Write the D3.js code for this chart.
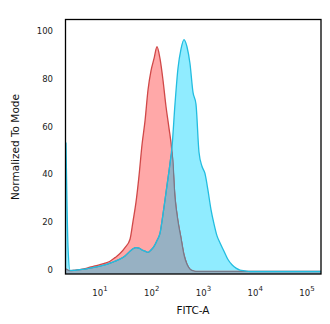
<!DOCTYPE html>
<html><head><meta charset="utf-8">
<script src="https://cdn.jsdelivr.net/npm/d3@7"></script>
<style>body{margin:0;background:#fff}svg{display:block}</style>
</head><body>
<svg id="c" width="330" height="324"></svg>
<script>
// FITC-A channel positions (shared grid)
const fitc = [2.2,2.41,2.63,3.29,4.11,5.13,6.41,8.0,10,12.5,15.6,19.5,24.3,30.4,38.0,43.4,49.6,56.7,64.8,74.1,84.7,96.8,110.5,126.3,144.3,164.9,188.4,215.3,246.0,281.1,321.2,367.1,419.5,479.3,547.7,625.9,715.2,817.3,933.9,1067,1219,1393,1592,1819,2079,2490,2973,3555,4246,5070,6336,7921,12370,30070,73230,186600];
// Isotype control (red), normalized to mode
const isotype = [1,0.5,0.3,0.5,0.8,1.2,1.8,2.3,2.9,3.5,4.3,5.8,7.5,10,13.5,21,29,40,53,63,76,84,89,94,89,80,69,60,50,31,21,14,7,3,1,0.3,0,0,0,0,0,0,0,0,0,0,0,0,0,0,0,0,0,0,0,0];
// Antibody stained (cyan), normalized to mode
const antibody = [54,10,0.5,0.5,0.8,1.0,1.4,1.8,2.2,2.8,3.5,4.3,5.2,6.5,8.5,9.5,10,9.8,9,8.5,8,9,10.5,13,16,24,33,42,52,70,85,93,97,94,87,75,70,50,44,41,34,26,20,15,12,8.5,5,2.8,1.4,0.6,0.3,0,0,0,0,0];
const yTicks = [0,20,40,60,80,100];
const xTicks = [1,2,3,4,5];
const xTitle = "FITC-A";
const yTitle = "Normalized To Mode";

const svg = d3.select("#c");
const L = 65.5, R = 321, T = 19.5, B = 274;
const x = d3.scaleLog().domain([2.2, 186600]).range([66, R]);
const y = d3.scaleLinear().domain([-1.05, 105.4]).range([B, T]);

const pts = (arr) => fitc.map((f, i) => ({f, v: arr[i]}));
const overlap = fitc.map((f, i) => ({f, v: Math.min(isotype[i], antibody[i])}));

const area = d3.area().x(d => x(d.f)).y0(B).y1(d => y(d.v)).curve(d3.curveMonotoneX);
const line = d3.line().x(d => x(d.f)).y(d => y(d.v)).curve(d3.curveMonotoneX);

const g = svg.append("g");
g.append("path").attr("d", area(pts(isotype))).attr("fill", "#ffa8a8");
g.append("path").attr("d", area(pts(antibody))).attr("fill", "#90ecff");
g.append("path").attr("d", line(pts(isotype))).attr("fill", "none").attr("stroke", "#d04848").attr("stroke-width", 1.3);
g.append("path").attr("d", area(overlap)).attr("fill", "#97b1c3");
g.append("path").attr("d", line(overlap)).attr("fill", "none").attr("stroke", "#737b8c").attr("stroke-width", 1.2);
g.append("path").attr("d", line(pts(antibody))).attr("fill", "none").attr("stroke", "#22bde0").attr("stroke-width", 1.3);

// frame
svg.append("rect").attr("x", L).attr("y", T).attr("width", R - L).attr("height", B - T)
  .attr("fill", "none").attr("stroke", "#000").attr("stroke-width", 1.3);

// y tick labels
svg.append("g").selectAll("text").data(yTicks).join("text")
  .attr("x", 53).attr("y", d => y(d) - 1.5)
  .attr("text-anchor", "end").attr("dominant-baseline", "central")
  .attr("font-family", "DejaVu Sans").attr("font-size", 8.5).attr("fill", "#222")
  .text(d => d);

// x tick labels 10^n
const xl = svg.append("g").selectAll("text").data(xTicks).join("text")
  .attr("x", d => x(Math.pow(10, d))).attr("y", 296)
  .attr("text-anchor", "middle")
  .attr("font-family", "DejaVu Sans").attr("font-size", 8.5).attr("fill", "#222");
xl.append("tspan").text("10");
xl.append("tspan").attr("dy", -5).attr("font-size", 7).text(d => d);

svg.append("text").attr("x", 193).attr("y", 314).attr("text-anchor", "middle")
  .attr("font-family", "DejaVu Sans").attr("font-size", 10.5).attr("fill", "#111").text(xTitle);
svg.append("text").attr("transform", "translate(19,147) rotate(-90)").attr("text-anchor", "middle")
  .attr("font-family", "DejaVu Sans").attr("font-size", 10.5).attr("fill", "#111").text(yTitle);
</script>
</body></html>
